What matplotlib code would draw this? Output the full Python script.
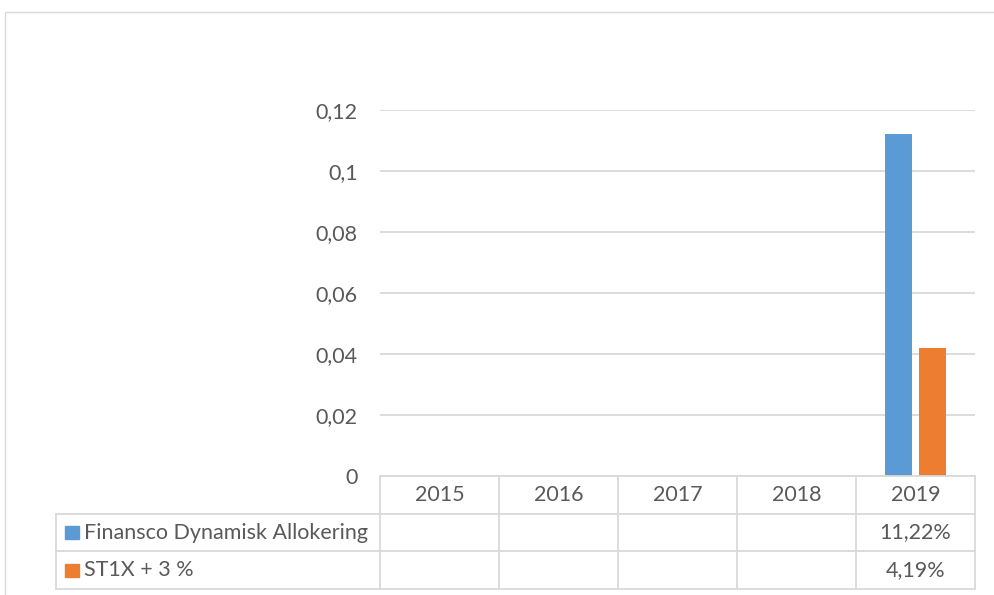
import numpy as np
import matplotlib.pyplot as plt
from matplotlib.patches import Rectangle

years = ['2015', '2016', '2017', '2018', '2019']
fund = [np.nan, np.nan, np.nan, np.nan, 0.1122]
bench = [np.nan, np.nan, np.nan, np.nan, 0.0419]
series_names = ['Finansco Dynamisk Allokering', 'ST1X + 3 %']
fund_text = ['', '', '', '', '11,22%']
bench_text = ['', '', '', '', '4,19%']
yticks = [0, 0.02, 0.04, 0.06, 0.08, 0.1, 0.12]
ytick_labels = ['0', '0,02', '0,04', '0,06', '0,08', '0,1', '0,12']

blue = '#5B9BD5'
orange = '#ED7D31'
grid = '#d9d9d9'
txt = '#595959'
fs = 15.5
plt.rcParams['font.family'] = ['Lato', 'DejaVu Sans']

W, H = 994, 595
fig = plt.figure(figsize=(W / 100, H / 100), dpi=100)

# outer chart border
fig.patches.append(Rectangle((5 / W, -0.1), 1.1, 1 - 12 / H + 0.1,
                             transform=fig.transFigure, fill=False,
                             edgecolor=grid, lw=1.0))

x0, x1, y0, y1 = 380, 975, 476, 110
ax = fig.add_axes([x0 / W, 1 - y0 / H, (x1 - x0) / W, (y0 - y1) / H])

x = np.arange(len(years))
ax.bar(x - 0.143, fund, width=0.227, color=blue, zorder=3)
ax.bar(x + 0.143, bench, width=0.227, color=orange, zorder=3)

ax.set_xlim(-0.5, len(years) - 0.5)
ax.set_ylim(0, 0.12)
ax.set_yticks(yticks)
ax.set_yticklabels(ytick_labels)
ax.tick_params(axis='y', length=0, pad=16, labelsize=fs, labelcolor=txt)
ax.set_xticks([])
ax.grid(axis='y', color=grid, lw=1.3, zorder=0)
for s in ax.spines.values():
    s.set_visible(False)

# data table below the axes
row_h = 37.7
lab_left = 56
table_bottom = y0 + 3 * row_h
ys = [y0 + i * row_h for i in range(4)]


def fx(px):
    return px / W


def fy(py):
    return 1 - py / H


lk = dict(color=grid, lw=1.3, transform=fig.transFigure)
# horizontal lines
fig.add_artist(plt.Line2D([fx(x0), fx(x1)], [fy(ys[0]), fy(ys[0])], **lk))
for yy in ys[1:]:
    fig.add_artist(plt.Line2D([fx(lab_left), fx(x1)], [fy(yy), fy(yy)], **lk))
# vertical lines
col_w = (x1 - x0) / len(years)
for i in range(len(years) + 1):
    xx = x0 + i * col_w
    fig.add_artist(plt.Line2D([fx(xx), fx(xx)], [fy(ys[0]), fy(table_bottom)], **lk))
fig.add_artist(plt.Line2D([fx(lab_left), fx(lab_left)], [fy(ys[1]), fy(table_bottom)], **lk))

for i, yr in enumerate(years):
    cx = x0 + (i + 0.5) * col_w
    fig.text(fx(cx), fy((ys[0] + ys[1]) / 2), yr, ha='center', va='center',
             fontsize=fs, color=txt)
    fig.text(fx(cx), fy((ys[1] + ys[2]) / 2), fund_text[i], ha='center', va='center',
             fontsize=fs, color=txt)
    fig.text(fx(cx), fy((ys[2] + ys[3]) / 2), bench_text[i], ha='center', va='center',
             fontsize=fs, color=txt)

for name, col, (ya, yb) in zip(series_names, [blue, orange], [(ys[1], ys[2]), (ys[2], ys[3])]):
    cy = (ya + yb) / 2
    fig.patches.append(Rectangle((fx(65), fy(cy + 6.5)), 14 / W, 13 / H,
                                 transform=fig.transFigure, color=col))
    fig.text(fx(84), fy(cy), name, ha='left', va='center', fontsize=fs, color=txt)

fig.savefig('out.png', dpi=100)
